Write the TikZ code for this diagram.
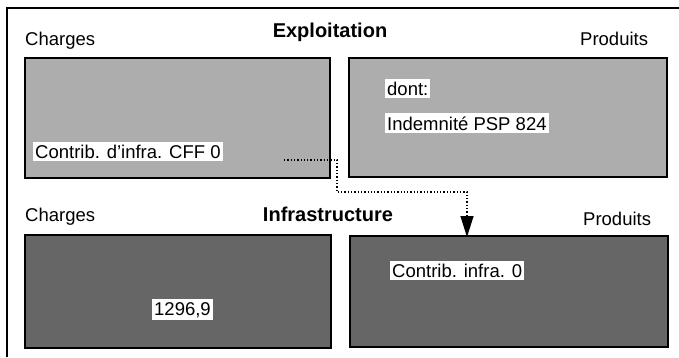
\documentclass[tikz,border=0pt]{standalone}
\usepackage{fontspec}
\setmainfont{Liberation Sans}
\usetikzlibrary{arrows.meta}
\begin{document}
\begin{tikzpicture}[x=1pt,y=-1pt,
  frame/.style={line width=1.4pt},
  lightbox/.style={draw=black, line width=2pt, fill=black!32, anchor=north west, inner sep=0pt},
  darkbox/.style={draw=black, line width=2pt, fill=black!60, anchor=north west, inner sep=0pt},
  head/.style={font=\fontsize{18.5}{20}\selectfont, anchor=base west, inner sep=0pt},
  title/.style={font=\fontsize{20}{22}\selectfont\bfseries, anchor=base, inner sep=0pt},
  lbl/.style={font=\fontsize{18.5}{20}\selectfont, fill=white, anchor=base west, inner xsep=2pt, inner ysep=3pt},
  conn/.style={dotted, line width=1.3pt, -{Triangle[length=21pt,width=13pt]}}
]
\useasboundingbox (0,0) rectangle (679,357);
% frame (top and left edges)
\coordinate (fa) at (7,357);
\coordinate (fb) at (7,8);
\coordinate (fc) at (679,8);
\draw[frame] (fa) -- (fb) -- (fc);

% Exploitation
\node[title] (t1) at (330,37) {Exploitation};
\node[head] (ch1) at (25,45) {Charges};
\node[head] (pr1) at (580,45) {Produits};
\node[lightbox, minimum width=305pt, minimum height=120pt] (exC) at (24,57) {};
\node[lightbox, minimum width=318pt, minimum height=119pt] (exP) at (348,57) {};
\node[lbl] (l1) at (33,158) {Contrib. d'infra. CFF 0};
\node[lbl] (l2) at (385,95) {dont:};
\node[lbl] (l3) at (385,130) {Indemnité PSP 824};

% Infrastructure
\node[title] (t2) at (328,221) {Infrastructure};
\node[head] (ch2) at (25,221) {Charges};
\node[head] (pr2) at (583,225) {Produits};
\node[darkbox, minimum width=306pt, minimum height=113pt] (inC) at (24,234) {};
\node[darkbox, minimum width=318pt, minimum height=111pt] (inP) at (349,235) {};
\node[lbl] (l4) at (152,315) {1296,9};
\node[lbl] (l5) at (390,277) {Contrib. infra. 0};

% connector
\coordinate (src) at (284,160);
\coordinate (bend) at (337,192);
\coordinate (tgt) at (467,237);
\draw[conn] (src) -| (bend) -| (tgt);
\end{tikzpicture}
\end{document}
